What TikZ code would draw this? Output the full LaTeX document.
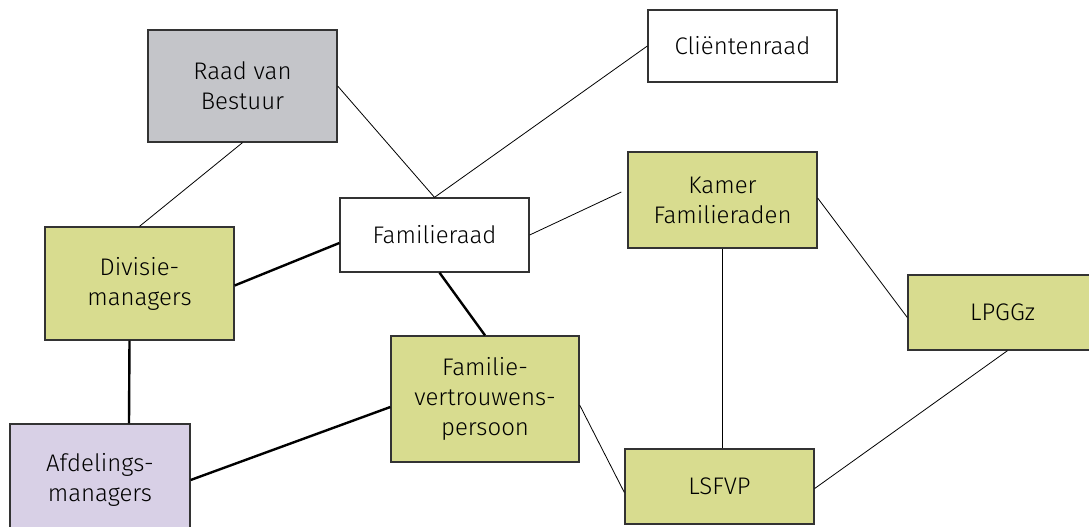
\documentclass[tikz,border=0pt]{standalone}
\usepackage{fontspec}
\setmainfont{Fira Sans}[UprightFont=* Light]
\begin{document}
\begin{tikzpicture}[x=1pt, y=-1pt]
    % Define colours
    \definecolor{borderColour}{HTML}{333333}
    \definecolor{greyFill}{HTML}{C4C5C9}
    \definecolor{greenFill}{HTML}{D8DC8F}
    \definecolor{purpleFill}{HTML}{D8D0E6}

    % Define styles
    \tikzset{
        box/.style={draw=borderColour, line width=1.3pt, minimum width=189pt, align=center,
            font=\fontsize{24}{30}\selectfont, inner sep=0pt},
        thinline/.style={line width=0.8pt},
        thickline/.style={line width=2.4pt}
    }

    % Fix picture size
    \useasboundingbox (0,0) rectangle (1089,527);

    % Draw boxes
    \node[box, fill=greyFill, minimum height=112pt] (raad) at (242.5,86) {Raad van\\Bestuur};
    \node[box, fill=white, minimum height=72pt] (client) at (742.5,46) {Cliëntenraad};
    \node[box, fill=white, minimum height=74pt] (fam) at (434.5,235) {Familieraad};
    \node[box, fill=greenFill, minimum height=96pt] (kamer) at (722.5,200) {Kamer\\Familieraden};
    \node[box, fill=greenFill, minimum height=113pt] (div) at (139.5,283.5) {Divisie-\\managers};
    \node[box, fill=greenFill, minimum height=75pt] (lpggz) at (1002.5,312.5) {LPGGz};
    \node[box, fill=greenFill, minimum width=188pt, minimum height=126pt] (fvp) at (485,399) {Familie-\\vertrouwens-\\persoon};
    \node[box, fill=purpleFill, minimum width=180pt, minimum height=112pt] (afd) at (100,480) {Afdelings-\\managers};
    \node[box, fill=greenFill, minimum height=75pt] (lsfvp) at (719.5,486.5) {LSFVP};

    % Thin connections
    \draw[thinline] (raad.south) -- (div.north);
    \draw[thinline] (raad.east) -- (fam.north);
    \draw[thinline] (client.west) -- (fam.north);
    \draw[thinline] (fam.east) -- ([xshift=-6pt,yshift=8pt]kamer.west);
    \draw[thinline] ([yshift=-6pt]fvp.east) -- ([yshift=-6pt]lsfvp.west);
    \draw[thinline] (kamer.south) -- ([xshift=3pt]lsfvp.north);
    \draw[thinline] ([yshift=2pt]kamer.east) -- ([yshift=-5pt]lpggz.west);
    \draw[thinline] ([xshift=5pt]lpggz.south) -- ([yshift=-2pt]lsfvp.east);

    % Thick connections
    \draw[thickline] ([yshift=-2pt]div.east) -- ([yshift=-8pt]fam.west);
    \draw[thickline] ([xshift=5pt]fam.south) -- (fvp.north);
    \draw[thickline] ([xshift=-10pt]div.south) -- ([xshift=29pt]afd.north);
    \draw[thickline] (afd.east) -- ([yshift=-8pt]fvp.west);

\end{tikzpicture}
\end{document}
